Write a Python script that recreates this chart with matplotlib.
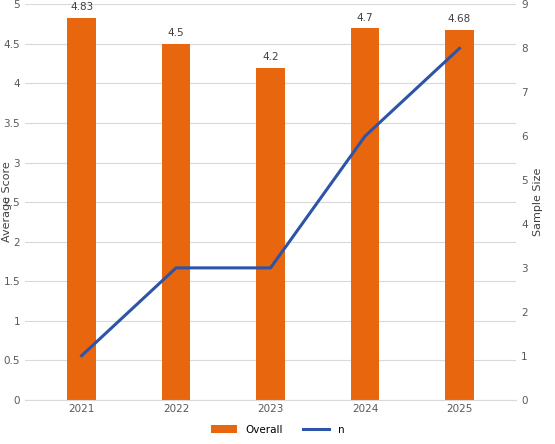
import matplotlib.pyplot as plt

years = ['2021', '2022', '2023', '2024', '2025']
overall = [4.83, 4.5, 4.2, 4.7, 4.68]
n = [1, 3, 3, 6, 8]

fig, ax = plt.subplots(figsize=(5.55, 4.44), dpi=100)
fig.subplots_adjust(left=0.045, right=0.93, top=0.99, bottom=0.1)
x = range(len(years))
bars = ax.bar(x, overall, width=0.3, color='#E8660D', label='Overall', zorder=2)
for xi, v in zip(x, overall):
    ax.text(xi, v + 0.07, f'{v:g}', ha='center', va='bottom', fontsize=7.5, color='#404040')
ax.set_ylim(0, 5)
ax.set_yticks([i * 0.5 for i in range(11)])
ax.set_yticklabels([f'{i * 0.5:g}' for i in range(11)])
ax.set_xticks(list(x))
ax.set_xticklabels(years)
ax.set_ylabel('Average Score', fontsize=8, color='#404040', labelpad=-6)
ax.grid(axis='y', color='#D9D9D9', linewidth=0.8, zorder=0)
ax.set_xlim(-0.6, 4.6)

ax2 = ax.twinx()
line, = ax2.plot(x, n, color='#2E54A8', linewidth=2.2, label='n')
ax2.set_ylim(0, 9)
ax2.set_yticks(range(10))
ax2.set_ylabel('Sample Size', fontsize=8, color='#404040')

for a in (ax, ax2):
    for s in a.spines.values():
        s.set_visible(False)
    a.tick_params(length=0, labelsize=7.5, labelcolor='#595959')
ax.spines['bottom'].set_visible(True)
ax.spines['bottom'].set_color('#D9D9D9')

fig.legend([bars, line], ['Overall', 'n'], loc='lower center', ncol=2, frameon=False,
           fontsize=7.5, bbox_to_anchor=(0.5, 0.0), handlelength=2.5)
fig.savefig('out.png')
